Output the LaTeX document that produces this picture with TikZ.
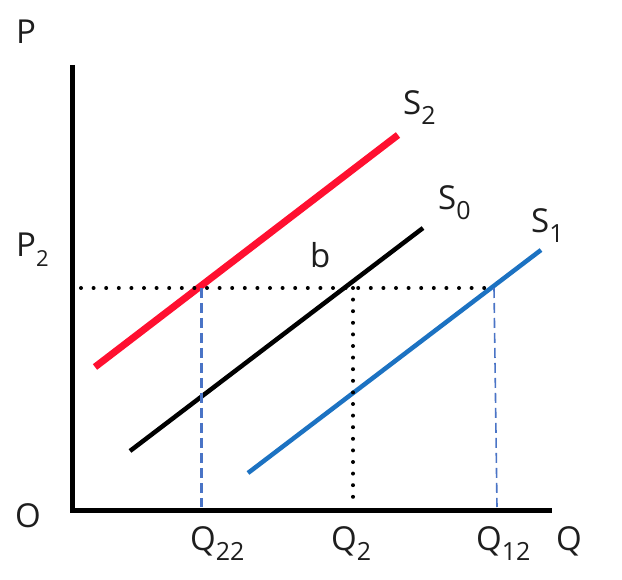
\documentclass[tikz,border=0pt]{standalone}
\usepackage{fontspec}
\setmainfont{Open Sans}
\newcommand{\lowsub}[2][25]{\raisebox{-10pt}{\fontsize{#1}{#1}\selectfont #2}}
\definecolor{sred}{HTML}{FF1030}
\definecolor{sblue}{HTML}{1C72C2}
\definecolor{dblue}{HTML}{4A74C6}
\definecolor{txt}{HTML}{1E1E1E}
\begin{document}
\begin{tikzpicture}[x=1pt,y=-1pt,
  lbl/.style={inner sep=0pt,anchor=base west,text=txt,font=\fontsize{33}{33}\selectfont},
  axis/.style={line width=5pt},
  dotline/.style={line width=4pt,line cap=round,dash pattern=on 0pt off #1},
  bluedash/.style={dblue,dash pattern=on 10pt off 5pt}]
\useasboundingbox[fill=white] (0,0) rectangle (622,580);
% axes
\coordinate (top) at (72,65);
\coordinate (O) at (72,510);
\coordinate (right) at (552,510);
\draw[axis] (top) -- (O) -- (right);
% curves
\coordinate (s2a) at (95,367);
\coordinate (s2b) at (398,135);
\coordinate (s0a) at (130,451);
\coordinate (s0b) at (423,228);
\coordinate (s1a) at (248,473);
\coordinate (s1b) at (541,250);
\draw[sred,line width=7pt] (s2a) -- (s2b);
\draw[black,line width=4.5pt] (s0a) -- (s0b);
\draw[sblue,line width=4.5pt] (s1a) -- (s1b);
% reference points
\coordinate (p2) at (81,288);
\coordinate (i22) at (201,288);
\coordinate (i2) at (353,288);
\coordinate (i12) at (494,288);
\coordinate (b22) at (201,507);
\coordinate (b2) at (353,507);
\coordinate (b12) at (497,507);
\draw[dotline=12.6pt] (p2) -- (i12);
\draw[dotline=11.6pt] (i2) -- (b2);
\draw[bluedash,line width=3pt] (i22) -- (b22);
\draw[bluedash,line width=1.6pt] (i12) -- (b12);
% labels
\node[lbl] (lP) at (16,44) {P};
\node[lbl] (lP2) at (16,257) {P\lowsub[22]{2}};
\node[lbl] (lO) at (15,527) {O};
\node[lbl] (lb) at (310,268) {b};
\node[lbl] (lS2) at (403,115) {S\lowsub{2}};
\node[lbl] (lS0) at (438,210) {S\lowsub{0}};
\node[lbl] (lS1) at (531,233) {S\lowsub{1}};
\node[lbl] (lQ22) at (190,550) {Q\lowsub{22}};
\node[lbl] (lQ2) at (331,550) {Q\lowsub{2}};
\node[lbl] (lQ12) at (476,550) {Q\lowsub{12}};
\node[lbl] (lQ) at (556,550) {Q};
\end{tikzpicture}
\end{document}
